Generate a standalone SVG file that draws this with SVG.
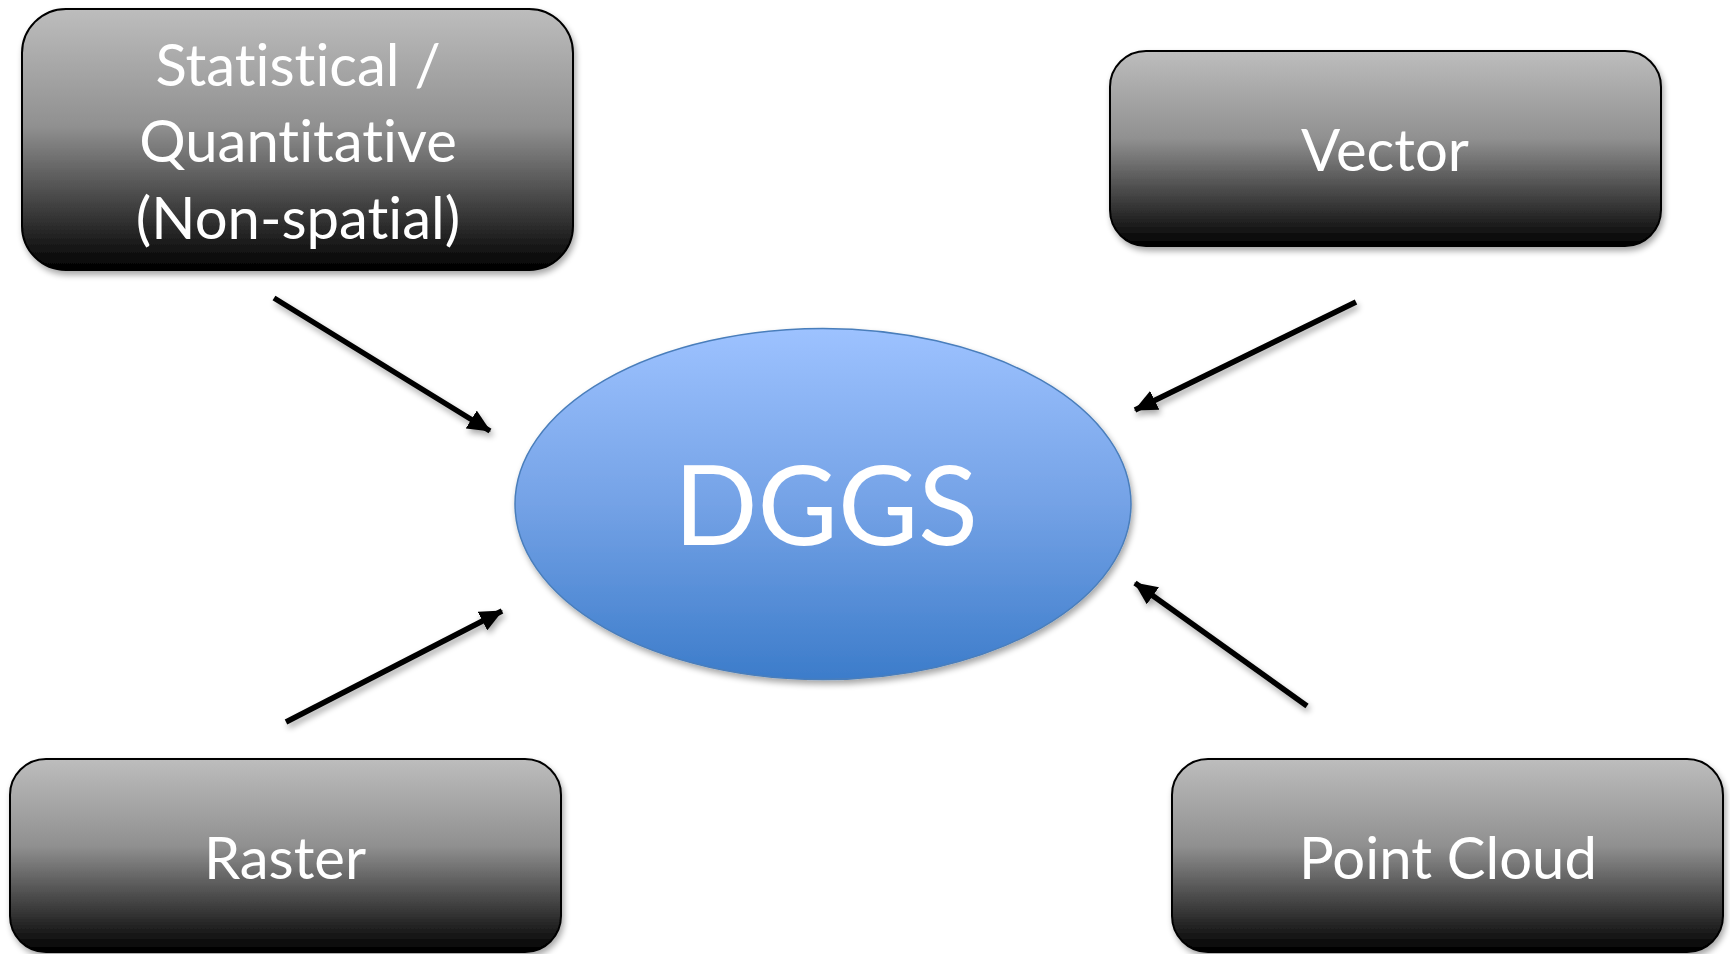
<svg xmlns="http://www.w3.org/2000/svg" width="1730" height="954" viewBox="0 0 1730 954">
  <defs>
    <linearGradient id="boxGrad" x1="0" y1="0" x2="0" y2="1">
      <stop offset="0" stop-color="#bdbdbd"/>
      <stop offset="0.45" stop-color="#909090"/>
      <stop offset="1" stop-color="#000000"/>
    </linearGradient>
    <linearGradient id="ellGrad" x1="0" y1="0" x2="0" y2="1">
      <stop offset="0" stop-color="#9dc2ff"/>
      <stop offset="0.5" stop-color="#74a2e6"/>
      <stop offset="1" stop-color="#3c7cca"/>
    </linearGradient>
    <filter id="shadow" x="-10%" y="-10%" width="125%" height="130%">
      <feGaussianBlur in="SourceAlpha" stdDeviation="3"/>
      <feOffset dx="2" dy="4" result="b"/>
      <feComponentTransfer><feFuncA type="linear" slope="0.35"/></feComponentTransfer>
      <feMerge><feMergeNode/><feMergeNode in="SourceGraphic"/></feMerge>
    </filter>
    <marker id="arrow" markerWidth="23" markerHeight="21" refX="22" refY="10.5" orient="auto" markerUnits="userSpaceOnUse">
      <path d="M0,0 L23,10.5 L0,21 Z" fill="#000"/>
    </marker>
    <style>
      .box { fill: url(#boxGrad); stroke: #000; stroke-width: 2; filter: url(#shadow); }
      .label { fill: #fff; font-family: Lato, "Open Sans", sans-serif; font-size: 58px; text-anchor: middle; font-variant-ligatures: none; font-feature-settings: "liga" 0; }
      .conn { stroke: #000; stroke-width: 5.5; fill: none; marker-end: url(#arrow); filter: url(#shadow); }
    </style>
  </defs>
  <rect width="1730" height="954" fill="#ffffff"/>

  <g id="connectors">
    <line class="conn" x1="274" y1="298" x2="490" y2="431"/>
    <line class="conn" x1="1356" y1="302" x2="1135" y2="410"/>
    <line class="conn" x1="286" y1="722" x2="502" y2="611"/>
    <line class="conn" x1="1307" y1="706" x2="1135" y2="583"/>
  </g>

  <g id="dggs">
    <ellipse cx="823" cy="504" rx="308" ry="175.5" fill="url(#ellGrad)" stroke="#4a7ebb" stroke-width="1.5" filter="url(#shadow)"/>
    <text x="826" y="545" fill="#fff" font-family="Lato, 'Open Sans', sans-serif" font-size="110" text-anchor="middle">DGGS</text>
  </g>

  <g id="statistical">
    <rect class="box" x="22" y="9" width="551" height="261" rx="44" ry="44"/>
    <text class="label" x="298" y="86">Statistical /</text>
    <text class="label" x="298" y="162">Quantitative</text>
    <text class="label" x="298" y="239">(Non-spatial)</text>
  </g>

  <g id="vector">
    <rect class="box" x="1110" y="51" width="551" height="195" rx="36" ry="36"/>
    <text class="label" x="1385" y="171">Vector</text>
  </g>

  <g id="raster">
    <rect class="box" x="10" y="759" width="551" height="193" rx="36" ry="36"/>
    <text class="label" x="285" y="879">Raster</text>
  </g>

  <g id="pointcloud">
    <rect class="box" x="1172" y="759" width="551" height="193" rx="36" ry="36"/>
    <text class="label" x="1448" y="879">Point Cloud</text>
  </g>
</svg>
